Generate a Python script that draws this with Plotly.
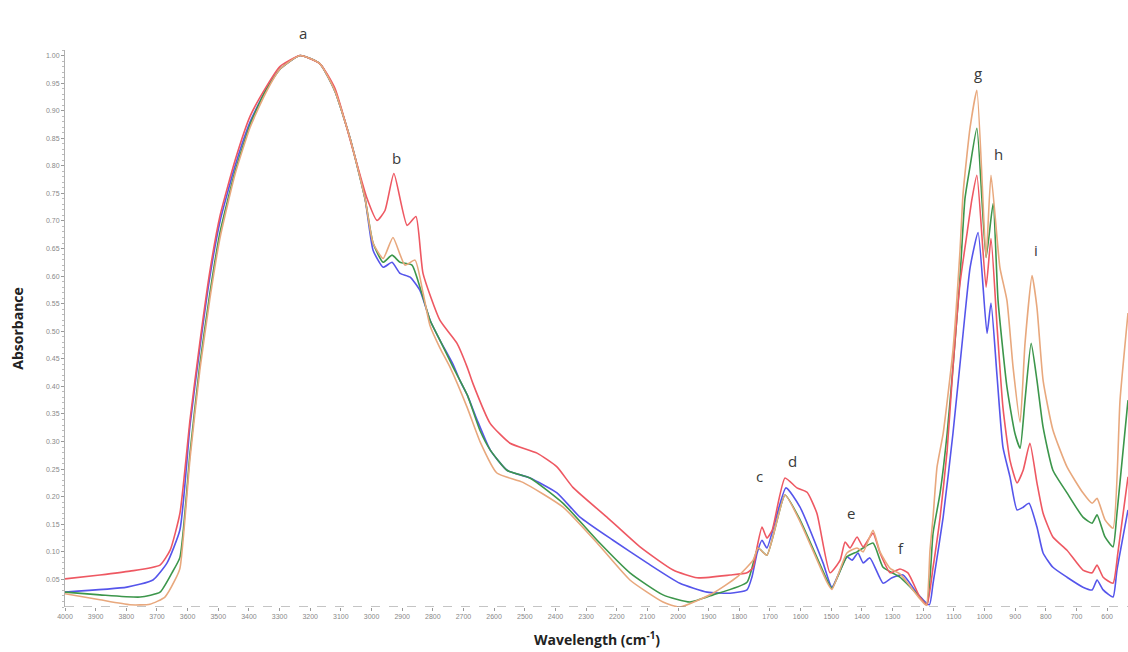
import plotly.graph_objects as go

# FTIR absorbance spectra of four samples (wavenumber in cm-1, absorbance)
wn_red = [4000, 3886, 3788, 3690, 3657, 3625, 3592, 3560, 3527, 3494, 3445, 3396, 3347, 3299, 3233,
          3168, 3119, 3060, 3016, 2982, 2956, 2927, 2884, 2855, 2832, 2777, 2721, 2688, 2669, 2613,
          2548, 2460, 2395, 2343, 2232, 2124, 2016, 1938, 1830, 1775, 1755, 1742, 1726, 1710, 1693,
          1651, 1612, 1579, 1547, 1504, 1471, 1455, 1439, 1416, 1396, 1364, 1341, 1308, 1276, 1250,
          1211, 1188, 1168, 1145, 1122, 1103, 1080, 1057, 1041, 1025, 995, 979, 959, 940, 917, 894,
          874, 852, 829, 809, 777, 731, 679, 649, 633, 613, 581, 565, 532]
abs_red = [0.051, 0.058, 0.065, 0.076, 0.103, 0.17, 0.34, 0.48, 0.61, 0.71, 0.81, 0.89, 0.94, 0.98, 1.0,
           0.985, 0.94, 0.828, 0.743, 0.701, 0.719, 0.786, 0.692, 0.708, 0.605, 0.52, 0.478, 0.435, 0.405, 0.333,
           0.297, 0.279, 0.254, 0.217, 0.163, 0.109, 0.067, 0.053, 0.058, 0.062, 0.072, 0.109, 0.145, 0.125, 0.139,
           0.234, 0.216, 0.208, 0.170, 0.062, 0.085, 0.118, 0.107, 0.127, 0.109, 0.134, 0.098, 0.062, 0.069, 0.062,
           0.018, 0.004, 0.072, 0.163, 0.284, 0.435, 0.587, 0.678, 0.74, 0.783, 0.58, 0.668, 0.507, 0.362, 0.266, 0.225,
           0.248, 0.297, 0.225, 0.170, 0.127, 0.103, 0.067, 0.062, 0.076, 0.054, 0.043, 0.098, 0.236]

wn_blue = [4000, 3798, 3713, 3667, 3625, 3592, 3560, 3527, 3494, 3445, 3396, 3347, 3299, 3233,
           3168, 3119, 3070, 3021, 2995, 2962, 2933, 2907, 2874, 2842, 2809, 2777, 2734, 2711, 2688,
           2656, 2613, 2558, 2483, 2395, 2320, 2212, 2101, 1994, 1905, 1830, 1775, 1759, 1742, 1726,
           1710, 1648, 1602, 1527, 1498, 1449, 1432, 1413, 1396, 1374, 1331, 1302, 1266, 1220, 1180,
           1168, 1135, 1103, 1070, 1047, 1021, 992, 979, 959, 940, 917, 894, 874, 855, 829, 809, 777,
           731, 679, 649, 633, 613, 581, 568, 532]
abs_blue = [0.027, 0.036, 0.049, 0.08, 0.14, 0.33, 0.47, 0.60, 0.70, 0.80, 0.88, 0.935, 0.975, 1.0,
            0.985, 0.935, 0.85, 0.74, 0.647, 0.616, 0.625, 0.605, 0.598, 0.574, 0.52, 0.484, 0.44, 0.41, 0.385,
            0.34, 0.285, 0.248, 0.234, 0.207, 0.163, 0.121, 0.08, 0.043, 0.027, 0.025, 0.031, 0.054, 0.098, 0.121,
            0.107, 0.216, 0.181, 0.080, 0.036, 0.091, 0.085, 0.098, 0.080, 0.089, 0.043, 0.053, 0.058, 0.025, 0.004,
            0.043, 0.163, 0.315, 0.496, 0.616, 0.679, 0.496, 0.551, 0.417, 0.29, 0.236, 0.176, 0.181, 0.188, 0.145, 0.098, 0.072,
            0.054, 0.036, 0.031, 0.049, 0.031, 0.018, 0.067, 0.176]

wn_green = [4000, 3886, 3755, 3690, 3651, 3625, 3592, 3560, 3527, 3494, 3445, 3396, 3347, 3299, 3233,
            3168, 3119, 3070, 3021, 2995, 2962, 2933, 2907, 2868, 2842, 2809, 2777, 2734, 2688, 2646,
            2613, 2558, 2483, 2375, 2264, 2157, 2049, 1961, 1886, 1775, 1739, 1710, 1651, 1602, 1514,
            1498, 1449, 1416, 1364, 1331, 1276, 1211, 1188, 1168, 1145, 1122, 1103, 1080, 1064, 1047,
            1025, 995, 972, 956, 927, 901, 884, 868, 848, 829, 809, 777, 731, 679, 649, 633, 607, 581,
            568, 532]
abs_green = [0.027, 0.022, 0.018, 0.027, 0.062, 0.09, 0.28, 0.44, 0.57, 0.68, 0.79, 0.875, 0.935, 0.975, 1.0,
             0.985, 0.935, 0.85, 0.74, 0.66, 0.625, 0.638, 0.625, 0.62, 0.58, 0.52, 0.484, 0.435, 0.385, 0.32,
             0.285, 0.248, 0.234, 0.188, 0.121, 0.062, 0.022, 0.009, 0.022, 0.045, 0.107, 0.094, 0.203, 0.158, 0.049,
             0.034, 0.091, 0.1, 0.116, 0.072, 0.054, 0.018, 0.004, 0.134, 0.207, 0.315, 0.435, 0.598, 0.74, 0.80,
             0.868, 0.634, 0.732, 0.556, 0.399, 0.315, 0.288, 0.375, 0.478, 0.411, 0.326, 0.248, 0.207, 0.163, 0.152, 0.167, 0.127, 0.109,
             0.170, 0.375]

wn_orange = [4000, 3886, 3788, 3723, 3674, 3641, 3625, 3592, 3560, 3527, 3494, 3445, 3396, 3347, 3299, 3233,
             3168, 3119, 3070, 3021, 2995, 2962, 2930, 2891, 2858, 2832, 2809, 2777, 2744, 2688, 2646,
             2591, 2506, 2375, 2264, 2157, 2049, 1994, 1886, 1808, 1755, 1739, 1710, 1651, 1602, 1514,
             1498, 1449, 1416, 1396, 1364, 1341, 1308, 1276, 1211, 1190, 1178, 1168, 1155, 1135, 1103,
             1080, 1070, 1047, 1025, 995, 979, 950, 927, 907, 884, 868, 845, 829, 809, 777, 731, 679,
             649, 633, 607, 581, 558, 532]
abs_orange = [0.024, 0.013, 0.004, 0.005, 0.018, 0.049, 0.07, 0.27, 0.43, 0.56, 0.67, 0.785, 0.87, 0.93, 0.975, 1.0,
              0.985, 0.935, 0.85, 0.74, 0.66, 0.632, 0.67, 0.62, 0.629, 0.57, 0.51, 0.47, 0.435, 0.362, 0.30,
              0.243, 0.226, 0.181, 0.116, 0.049, 0.009, 0.0, 0.025, 0.054, 0.085, 0.107, 0.094, 0.203, 0.155, 0.045,
              0.032, 0.098, 0.107, 0.10, 0.139, 0.10, 0.07, 0.06, 0.015, 0.003, 0.103, 0.163, 0.254, 0.315, 0.466,
              0.647, 0.75, 0.87, 0.937, 0.634, 0.783, 0.616, 0.556, 0.435, 0.335, 0.478, 0.601, 0.543, 0.411, 0.321, 0.254, 0.207,
              0.188, 0.197, 0.158, 0.143, 0.375, 0.533]

# Band labels
band_names = ["a", "b", "c", "d", "e", "f", "g", "h", "i"]
band_wn = [3223, 2920, 1733, 1628, 1436, 1272, 1021, 956, 832]
band_abs = [1.04, 0.815, 0.237, 0.264, 0.170, 0.107, 0.969, 0.822, 0.647]

x_ticks = list(range(4000, 599, -100))
y_ticks = [round(0.05 * k, 2) for k in range(1, 21)]
y_top = 1.01

series = [
    (wn_blue, abs_blue, "rgb(85,85,235)"),
    (wn_green, abs_green, "rgb(60,150,75)"),
    (wn_red, abs_red, "rgb(238,88,98)"),
    (wn_orange, abs_orange, "rgb(232,168,125)"),
]

fig = go.Figure()
for wn, ab, col in series:
    fig.add_trace(go.Scatter(
        x=wn, y=ab, mode="lines",
        line=dict(color=col, width=1.6, shape="spline", smoothing=0.5),
        showlegend=False, hoverinfo="skip",
    ))

# band letters: placed in paper height so the top one may sit above the plot area
for name, wx, wy in zip(band_names, band_wn, band_abs):
    fig.add_annotation(x=wx, xref="x", y=wy / y_top, yref="paper", text=name, showarrow=False,
                       xanchor="center", yanchor="middle",
                       font=dict(family="Open Sans, Arial", size=15, color="#3a3a3a"))

# dashed baseline along the wavenumber axis
fig.add_shape(type="line", xref="x", yref="y", x0=4000, x1=532, y0=0, y1=0,
              line=dict(color="#8a8a8a", width=1.2, dash="dash"))

fig.add_annotation(xref="paper", yref="paper", x=-0.045, y=0.5, text="<b>Absorbance</b>",
                   textangle=-90, showarrow=False, xanchor="center", yanchor="middle",
                   font=dict(family="Open Sans, Arial", size=14, color="#222"))
fig.add_annotation(xref="paper", yref="paper", x=0.5, y=-0.058, text="<b>Wavelength (cm<sup>-1</sup>)</b>",
                   showarrow=False, xanchor="center", yanchor="middle",
                   font=dict(family="Open Sans, Arial", size=14, color="#222"))

fig.update_layout(
    width=1128, height=652,
    margin=dict(l=65, r=0, t=50, b=45),
    paper_bgcolor="white", plot_bgcolor="white",
    xaxis=dict(range=[4000, 532], tickvals=x_ticks, ticktext=[str(v) for v in x_ticks],
               showgrid=False, zeroline=False, showline=False,
               ticks="outside", ticklen=3, tickcolor="#999",
               tickfont=dict(size=7, color="#888", family="Arial")),
    yaxis=dict(range=[0, y_top], tickvals=y_ticks, ticktext=[f"{v:.2f}" for v in y_ticks],
               showgrid=False, zeroline=False, showline=True, linecolor="#b0b0b0", linewidth=1,
               ticks="outside", ticklen=3, tickcolor="#999",
               minor=dict(dtick=0.01, ticks="outside", ticklen=2, tickcolor="#bbb"),
               tickfont=dict(size=7, color="#888", family="Arial")),
)

fig.write_html("out.html")
